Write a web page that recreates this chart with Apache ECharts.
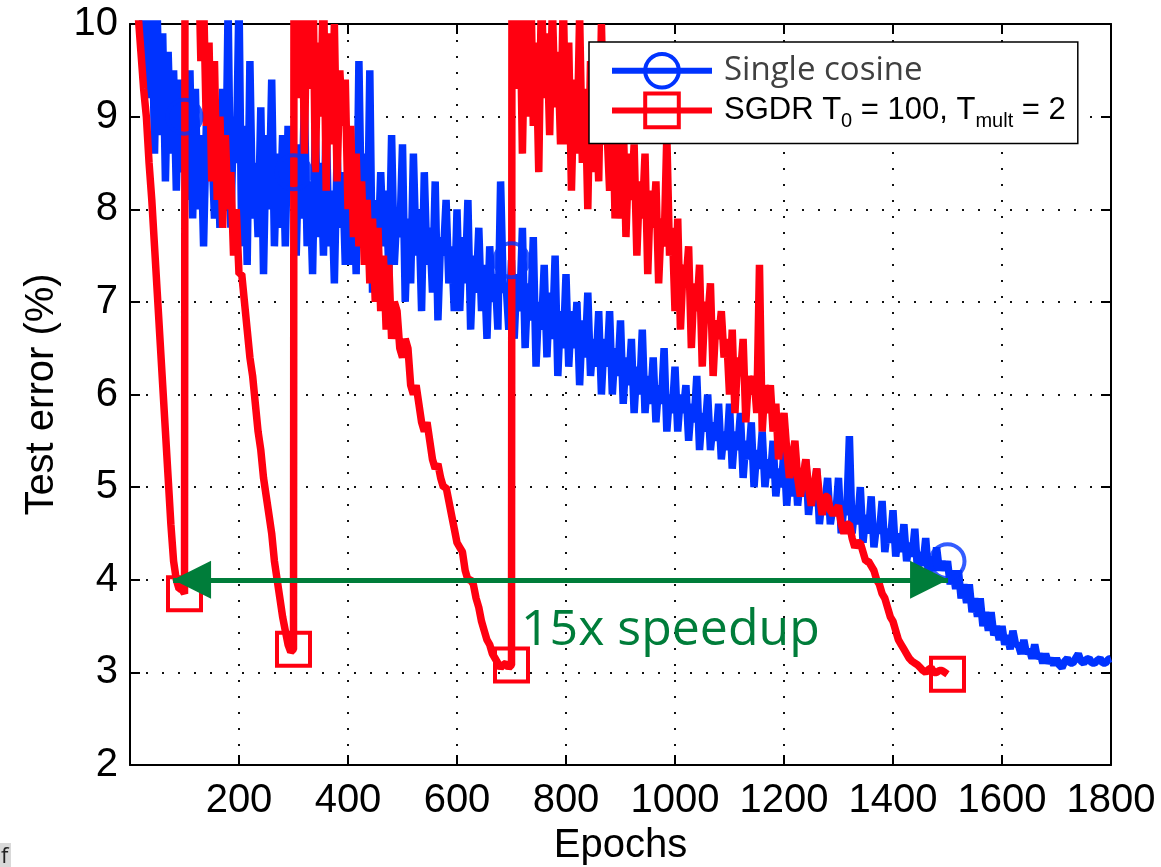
<!DOCTYPE html>
<html><head><meta charset="utf-8">
<script src="https://cdn.jsdelivr.net/npm/echarts@6/dist/echarts.min.js"></script>
<style>html,body{margin:0;padding:0;background:#fff}#c{width:1161px;height:867px}</style>
</head><body><div id="c"></div>
<script>
// ---------- data ----------
const epochStep = 5;
const xRange = [0, 1800];
const yRange = [2, 10];
const blueName = 'Single cosine';
const redName = 'SGDR T0 = 100, Tmult = 2';
// Single cosine test error (%), epochs 0..1800 every 5 (20 values per row = 100 epochs)
const blueErr = [
  12, 10.6, 11.5, 10.2, 11, 9.4, 10.8, 9.2, 10.4, 8.6, 10.1, 8.8, 9.9, 8.3, 9.7, 8.6, 9.5, 8.2, 9.4, 8.4,
  9.0, 8.1, 9.5, 7.9, 9.3, 8.0, 8.8, 7.6, 8.9, 8.4, 8.7, 7.9, 8.8, 7.8, 9.3, 8.0, 10.2, 7.8, 9.0, 8.5,
  10.3, 7.6, 8.9, 7.4, 9.6, 7.9, 8.5, 7.7, 9.1, 7.3, 8.8, 8.0, 9.4, 7.6, 8.6, 7.8, 8.8, 7.6, 8.9, 8.4,
  8.4, 7.5, 8.7, 7.9, 9.2, 7.6, 8.3, 7.3, 8.9, 7.7, 8.5, 7.5, 9.0, 7.6, 8.2, 7.2, 8.6, 7.8, 8.4, 7.4,
  8.5, 7.4, 8.3, 7.3, 9.6, 7.8, 8.6, 7.4, 9.5, 7.1, 8.1, 7.5, 8.4, 7.6, 8.2, 7.3, 8.8, 7.4, 8.0, 7.7,
  8.7, 7.0, 7.9, 7.2, 8.6, 7.5, 8.0, 6.9, 8.4, 7.4, 7.8, 7.1, 8.3, 6.8, 7.7, 7.5, 8.1, 7.2, 7.6, 6.9,
  8.0, 6.9, 7.7, 7.2, 8.1, 6.7, 7.5, 7.1, 7.8, 6.9, 7.4, 6.6, 7.6, 7.0, 7.3, 6.7, 8.3, 7.1, 7.2, 6.7,
  7.45, 6.6, 7.3, 6.9, 7.8, 6.5, 7.2, 6.8, 7.7, 6.3, 7.0, 6.7, 7.4, 6.4, 7.1, 6.6, 7.5, 6.2, 6.9, 6.5,
  7.3, 6.3, 6.9, 6.5, 7.0, 6.1, 6.8, 6.4, 7.1, 6.2, 6.6, 6.3, 6.9, 6.0, 6.6, 6.3, 6.9, 6.0, 6.5, 6.2,
  6.8, 5.9, 6.4, 6.1, 6.6, 5.8, 6.3, 6.0, 6.7, 5.8, 6.2, 5.9, 6.4, 5.7, 6.1, 5.9, 6.5, 5.6, 6.0, 5.8,
  6.3, 5.6, 6.0, 5.8, 6.1, 5.5, 5.9, 5.7, 6.2, 5.4, 5.8, 5.6, 6.0, 5.4, 5.7, 5.5, 5.9, 5.3, 5.6, 5.4,
  5.9, 5.2, 5.6, 5.4, 5.8, 5.1, 5.5, 5.3, 5.7, 5.0, 5.4, 5.2, 5.6, 5.0, 5.3, 5.1, 5.5, 4.9, 5.2, 5.0,
  5.4, 4.8, 5.2, 4.9, 5.3, 4.8, 5.1, 4.9, 5.3, 4.7, 5.0, 4.8, 5.2, 4.6, 4.9, 4.8, 5.1, 4.6, 4.8, 4.7,
  5.1, 4.5, 4.8, 4.7, 5.55, 4.5, 4.8, 4.6, 5.0, 4.4, 4.7, 4.5, 4.9, 4.35, 4.6, 4.5, 4.85, 4.3, 4.55, 4.4,
  4.75, 4.25, 4.5, 4.3, 4.6, 4.2, 4.4, 4.25, 4.55, 4.1, 4.3, 4.15, 4.45, 4.05, 4.25, 4.1, 4.35, 4.1, 4.2, 4.1,
  4.2, 3.95, 4.1, 3.9, 4.1, 3.8, 3.95, 3.75, 3.95, 3.65, 3.8, 3.6, 3.8, 3.5, 3.65, 3.45, 3.65, 3.4, 3.5, 3.35,
  3.5, 3.3, 3.4, 3.25, 3.45, 3.3, 3.3, 3.2, 3.35, 3.2, 3.25, 3.15, 3.3, 3.15, 3.2, 3.1, 3.2, 3.1, 3.15, 3.08,
  3.15, 3.08, 3.05, 3.12, 3.15, 3.1, 3.1, 3.15, 3.2, 3.12, 3.1, 3.14, 3.15, 3.1, 3.1, 3.13, 3.15, 3.1, 3.1, 3.14,
  3.15
];
// SGDR test error (%), epochs 0..1500 every 5
const redErr = [
  // 0..100
  11, 10.8, 10.6, 10.1, 9.7, 9.3, 9.0, 8.5, 8.1, 7.6, 7.1, 6.6, 6.1, 5.6, 5.1, 4.6, 4.2, 4.0, 3.9, 3.9, 3.85,
  // 105..300
  11.0, 10.8, 11.2, 10.6, 10.9, 9.6, 10.3, 8.9, 9.8, 8.3, 9.6, 8.1, 9.0, 7.8, 8.8, 8.0, 8.4, 7.5, 8.0, 7.3,
  7.3, 7.0, 6.7, 6.4, 6.2, 5.9, 5.6, 5.4, 5.1, 4.9, 4.7, 4.5, 4.2, 4.0, 3.8, 3.6, 3.45, 3.3, 3.22, 3.25,
  // 305..700
  11.2, 9.2, 10.8, 8.6, 10.4, 9.3, 10.9, 8.4, 9.8, 9.0, 10.5, 8.2, 9.9, 8.7, 10.0, 8.3, 9.5, 8.9, 9.4,
  8.0, 8.9, 7.7, 8.6, 7.6, 8.3, 7.4, 8.1, 7.2, 7.9, 7.0, 7.8, 6.9, 7.5, 6.7, 7.4, 6.6, 7.0, 6.9, 6.5,
  6.4, 6.6, 6.5, 6.1, 6.0, 6.1, 5.9, 5.7, 5.6, 5.7, 5.5, 5.3, 5.2, 5.25, 5.1, 5.0, 5.0, 4.85, 4.7, 4.55,
  4.4, 4.35, 4.3, 4.1, 4.0, 4.0, 3.95, 3.8, 3.7, 3.55, 3.45, 3.35, 3.3, 3.2, 3.15, 3.1, 3.05, 3.08, 3.1, 3.05, 3.08,
  // 705..1500
  11.0, 9.3, 10.5, 8.6, 10.2, 9.0, 10.6, 8.9, 9.8, 8.4, 10.4, 9.2, 9.9, 8.8, 10.2, 9.1, 9.7, 8.7, 10.3,
  8.7, 9.8, 8.2, 9.4, 8.6, 10.1, 8.5, 9.3, 8.0, 9.6, 8.4, 9.2, 8.3, 10.0, 8.7, 8.9, 8.2, 9.3, 7.9, 8.8,
  7.9, 9.0, 7.7, 8.6, 8.1, 8.7, 7.5, 8.3, 7.9, 8.6, 7.3, 8.2, 7.8, 8.3, 7.2, 7.9, 7.6, 8.8, 7.5, 7.8,
  6.9, 7.9, 6.7, 7.4, 7.2, 7.6, 6.5, 7.2, 6.9, 7.4, 6.3, 7.0, 6.8, 7.2, 6.2, 6.8, 6.6, 6.9, 6.4, 6.6,
  6.0, 6.7, 5.8, 6.4, 6.2, 6.6, 5.7, 6.2, 6.0, 6.2, 5.8, 7.4, 5.6, 6.1, 5.8, 6.1, 5.6, 5.9, 5.3, 5.6,
  5.8, 5.4, 5.1, 5.3, 5.5, 5.1, 4.9, 5.1, 5.3, 5.0, 4.8, 5.0, 5.2, 4.9, 4.7, 4.9, 4.9, 4.75, 4.7, 4.75,
  4.8, 4.6, 4.5, 4.6, 4.6, 4.45, 4.35, 4.4, 4.4, 4.3, 4.2, 4.2, 4.15, 4.1, 4.0, 3.95, 3.85, 3.8, 3.7, 3.6,
  3.55, 3.45, 3.35, 3.3, 3.25, 3.2, 3.15, 3.12, 3.1, 3.08, 3.05, 3.02, 3.0, 3.03, 3.05, 3.0, 3.0, 3.02, 3.02, 3.0, 2.98
];
const restartEpochs = [100, 300, 700];
const restartPeaks = [11.5, 11.5, 12];
const markerEpochs = [100, 300, 700, 1500];
const arrowEnds = [79, 1501];
const arrowLevel = 4;
const annotationText = '15x speedup';

// ---------- build ----------
const blueData = blueErr.map((v, i) => ({ value: [i * epochStep, v], symbol: 'none' }));
const blueMarks = markerEpochs.map(e => [e, blueErr[e / epochStep]]);
const redData = [];
redErr.forEach((v, i) => {
  const e = i * epochStep;
  redData.push({ value: [e, v], symbol: markerEpochs.includes(e) ? 'rect' : 'none' });
  const k = restartEpochs.indexOf(e);
  if (k >= 0) redData.push({ value: [e + 1, restartPeaks[k]], symbol: 'none' });
});

const BLUE = '#0033ff', RED = '#ff0010', GREEN = '#007d3a';
const tickFont = 'Liberation Sans';

const chart = echarts.init(document.getElementById('c'));
const axisCommon = {
  axisLine: { show: true, onZero: false, lineStyle: { color: '#000', width: 2 } },
  axisTick: { show: true, inside: true, length: 10, lineStyle: { color: '#000', width: 2 } }
};
chart.setOption({
  animation: false,
  backgroundColor: '#fff',
  grid: { left: 130, right: 50, top: 24, bottom: 102, containLabel: false, outerBoundsMode: 'none' },
  xAxis: [
    Object.assign({
      type: 'value', min: xRange[0], max: xRange[1], interval: 200, position: 'bottom',
      name: 'Epochs', nameLocation: 'middle', nameGap: 60,
      nameTextStyle: { fontFamily: tickFont, fontSize: 40, color: '#000' },
      axisLabel: { showMinLabel: false, fontFamily: tickFont, fontSize: 40, color: '#000', margin: 16,
        formatter: v => String(v) },
      splitLine: { show: true, lineStyle: { type: [2, 14], color: '#111', width: 2 } }
    }, axisCommon),
    Object.assign({
      type: 'value', min: xRange[0], max: xRange[1], interval: 200, position: 'top',
      axisLabel: { show: false }, splitLine: { show: false }
    }, axisCommon)
  ],
  yAxis: [
    Object.assign({
      type: 'value', min: yRange[0], max: yRange[1], interval: 1, position: 'left',
      name: 'Test error (%)', nameLocation: 'middle', nameGap: 68,
      nameTextStyle: { fontFamily: tickFont, fontSize: 40, color: '#000' },
      axisLabel: { fontFamily: tickFont, fontSize: 40, color: '#000', margin: 12 },
      splitLine: { show: true, lineStyle: { type: [2, 14], color: '#111', width: 2 } }
    }, axisCommon),
    Object.assign({
      type: 'value', min: yRange[0], max: yRange[1], interval: 1, position: 'right',
      axisLabel: { show: false }, splitLine: { show: false }
    }, axisCommon)
  ],
  legend: {
    orient: 'vertical', left: 589, top: 42,
    backgroundColor: '#fff', borderColor: '#000', borderWidth: 1.5, borderRadius: 0,
    padding: [10, 12, 12, 20], itemGap: 2, itemWidth: 100, itemHeight: 42,
    selectedMode: false,
    itemStyle: { borderWidth: 4 },
    lineStyle: { width: 6 },
    data: [blueName, redName],
    formatter: n => n === blueName ? '{c|Single cosine}' : '{a0|SGDR T}{s|0}{a| = 100, T}{s|mult}{a| = 2}',
    textStyle: {
      rich: {
        c: { fontFamily: 'Open Sans', fontSize: 33, color: '#404040', lineHeight: 42, padding: [0, 0, 0, 7] },
        a0: { fontFamily: tickFont, fontSize: 31, color: '#000', lineHeight: 42, padding: [0, 0, 0, 7] },
        a: { fontFamily: tickFont, fontSize: 31, color: '#000', lineHeight: 42 },
        s: { fontFamily: tickFont, fontSize: 20, color: '#000', verticalAlign: 'bottom' }
      }
    }
  },
  series: [
    {
      name: blueName, type: 'line', data: blueData, xAxisIndex: 0, yAxisIndex: 0,
      symbol: 'circle', symbolSize: 34, showSymbol: true, clip: true,
      lineStyle: { color: BLUE, width: 7.5 },
      itemStyle: { color: 'rgba(0,0,0,0)', borderColor: BLUE, borderWidth: 4 },
      emphasis: { disabled: true }, z: 2
    },
    {
      name: redName, type: 'line', data: redData, xAxisIndex: 0, yAxisIndex: 0,
      symbol: 'rect', symbolSize: 33, showSymbol: true, clip: true,
      lineStyle: { color: RED, width: 7.5 },
      itemStyle: { color: 'rgba(0,0,0,0)', borderColor: RED, borderWidth: 4 },
      emphasis: { disabled: true }, z: 3,
      markLine: {
        silent: true, z: 10,
        symbol: ['triangle', 'triangle'], symbolSize: 38, symbolOffset: [[0, 19], [0, 19]],
        lineStyle: { color: GREEN, width: 5, type: 'solid' },
        itemStyle: { color: GREEN },
        label: { show: false },
        data: [[{ coord: [arrowEnds[0], arrowLevel] }, { coord: [arrowEnds[1], arrowLevel] }]]
      }
    },
    {
      name: blueName + ' markers', type: 'scatter', data: blueMarks, xAxisIndex: 0, yAxisIndex: 0,
      symbol: 'circle', symbolSize: 34, silent: true,
      itemStyle: { color: 'rgba(0,0,0,0)', borderColor: BLUE, borderWidth: 4 },
      emphasis: { disabled: true }, z: 4
    }
  ],
  graphic: [
    { type: 'text', left: 521, top: 606, z: 20,
      style: { text: annotationText, fontFamily: 'Open Sans', fontSize: 50, fill: GREEN } },
    { type: 'rect', left: 0, top: 843, shape: { width: 11, height: 24 }, style: { fill: '#d9d9d9' } },
    { type: 'text', left: 1, top: 846, style: { text: 'f', fontFamily: 'Open Sans', fontSize: 22, fill: '#222' } }
  ]
});
</script>
</body></html>
